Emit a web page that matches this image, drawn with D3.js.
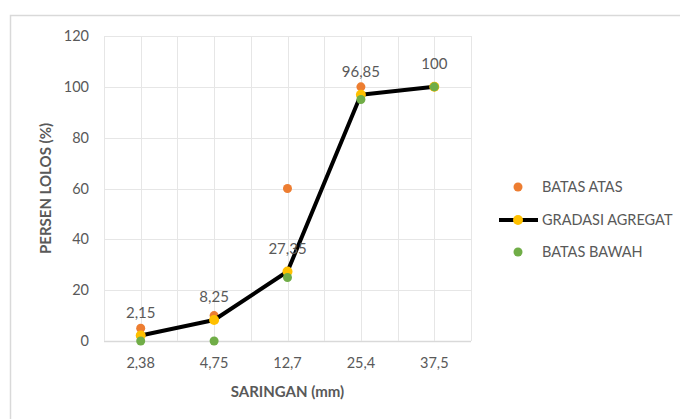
<!DOCTYPE html>
<html>
<head>
<meta charset="utf-8">
<script src="https://cdnjs.cloudflare.com/ajax/libs/d3/7.8.5/d3.min.js"></script>
<style>
  body { margin: 0; background: #fff; }
  svg { display: block; }
</style>
</head>
<body>
<div id="chart"></div>
<script>
var categories = ['2,38', '4,75', '12,7', '25,4', '37,5'];
var batasAtas = [5, 10, 60, 100, 100];
var gradasi = [2.15, 8.25, 27.35, 96.85, 100];
var batasBawah = [0, 0, 25, 95, 100];
var yTicks = [0, 20, 40, 60, 80, 100, 120];

var width = 680, height = 419;
var font = 'Lato, "Open Sans", sans-serif';
var textColor = '#595959';
var gridColor = '#d9d9d9';

var svg = d3.select('#chart')
  .append('svg')
    .attr('width', width)
    .attr('height', height)
    .attr('font-family', font);

// chart frame (runs off the right and bottom)
svg.append('path')
  .attr('d', 'M10.5,' + height + 'V15.5H' + width)
  .attr('fill', 'none')
  .attr('stroke', gridColor)
  .attr('stroke-width', 1.5);

var pLeft = 104, pRight = 471, pTop = 36, pBottom = 341;

var x = d3.scaleBand()
  .domain(categories)
  .range([pLeft, pRight]);
var y = d3.scaleLinear()
  .domain([0, 120])
  .range([pBottom, pTop]);
var cx = function(i) { return x(categories[i]) + x.bandwidth() / 2; };

// gridlines: horizontal at ticks, vertical at band edges and centres
var grid = svg.append('g');
grid.selectAll('.hg')
  .data(yTicks)
  .enter().append('line')
    .attr('x1', pLeft).attr('x2', pRight)
    .attr('y1', d => Math.round(y(d)) + 0.5)
    .attr('y2', d => Math.round(y(d)) + 0.5)
    .attr('stroke', d => d === 0 ? gridColor : '#e6e6e6')
    .attr('stroke-width', d => d === 0 ? 1.5 : 1);

var vx = [];
categories.forEach(function(c) {
  vx.push(x(c));
  vx.push(x(c) + x.bandwidth() / 2);
});
vx.push(pRight);
grid.selectAll('.vg')
  .data(vx)
  .enter().append('line')
    .attr('x1', d => Math.round(d) + 0.5)
    .attr('x2', d => Math.round(d) + 0.5)
    .attr('y1', pTop).attr('y2', pBottom)
    .attr('stroke', '#e6e6e6');

// y tick labels
svg.append('g')
  .selectAll('text')
  .data(yTicks)
  .enter().append('text')
    .attr('x', 89)
    .attr('y', d => y(d))
    .attr('dy', '0.35em')
    .attr('text-anchor', 'end')
    .attr('font-size', 14.5)
    .attr('fill', textColor)
    .text(d => d);

// x tick labels
svg.append('g')
  .selectAll('text')
  .data(categories)
  .enter().append('text')
    .attr('x', (d, i) => cx(i))
    .attr('y', 363)
    .attr('dy', '0.35em')
    .attr('text-anchor', 'middle')
    .attr('font-size', 14.5)
    .attr('fill', textColor)
    .text(d => d);

// axis titles
svg.append('text')
  .attr('x', (pLeft + pRight) / 2)
  .attr('y', 392)
  .attr('dy', '0.35em')
  .attr('text-anchor', 'middle')
  .attr('font-size', 15)
  .attr('font-weight', 'bold')
  .attr('fill', textColor)
  .text('SARINGAN (mm)');

svg.append('text')
  .attr('transform', 'translate(46,' + ((pTop + pBottom) / 2) + ') rotate(-90)')
  .attr('dy', '0.35em')
  .attr('text-anchor', 'middle')
  .attr('font-size', 15)
  .attr('font-weight', 'bold')
  .attr('fill', textColor)
  .text('PERSEN LOLOS (%)');

// series
svg.append('g')
  .selectAll('circle')
  .data(batasAtas)
  .enter().append('circle')
    .attr('cx', (d, i) => cx(i))
    .attr('cy', d => y(d))
    .attr('r', 4.5)
    .attr('fill', '#ED7D31');

var line = d3.line()
  .x((d, i) => cx(i))
  .y(d => y(d));

svg.append('path')
  .datum(gradasi)
  .attr('d', line)
  .attr('fill', 'none')
  .attr('stroke', '#000')
  .attr('stroke-width', 4)
  .attr('stroke-linejoin', 'round');

svg.append('g')
  .selectAll('circle')
  .data(gradasi)
  .enter().append('circle')
    .attr('cx', (d, i) => cx(i))
    .attr('cy', d => y(d))
    .attr('r', 5)
    .attr('fill', '#FFC000');

svg.append('g')
  .selectAll('circle')
  .data(batasBawah)
  .enter().append('circle')
    .attr('cx', (d, i) => cx(i))
    .attr('cy', d => y(d))
    .attr('r', 4.5)
    .attr('fill', '#70AD47');

// data labels for gradasi
svg.append('g')
  .selectAll('text')
  .data(gradasi)
  .enter().append('text')
    .attr('x', (d, i) => cx(i))
    .attr('y', d => y(d) - 23)
    .attr('dy', '0.35em')
    .attr('text-anchor', 'middle')
    .attr('font-size', 15)
    .attr('fill', textColor)
    .text(d => String(d).replace('.', ','));

// legend
var legend = svg.append('g');
legend.append('circle')
  .attr('cx', 518).attr('cy', 187).attr('r', 4.5).attr('fill', '#ED7D31');
legend.append('line')
  .attr('x1', 499).attr('x2', 538).attr('y1', 220).attr('y2', 220)
  .attr('stroke', '#000').attr('stroke-width', 4);
legend.append('circle')
  .attr('cx', 518).attr('cy', 220).attr('r', 5).attr('fill', '#FFC000');
legend.append('circle')
  .attr('cx', 518).attr('cy', 252).attr('r', 4.5).attr('fill', '#70AD47');

legend.selectAll('text')
  .data([['BATAS ATAS', 187], ['GRADASI AGREGAT', 220], ['BATAS BAWAH', 252]])
  .enter().append('text')
    .attr('x', 542)
    .attr('y', d => d[1])
    .attr('dy', '0.35em')
    .attr('font-size', 14.5)
    .attr('fill', textColor)
    .text(d => d[0]);
</script>
</body>
</html>
